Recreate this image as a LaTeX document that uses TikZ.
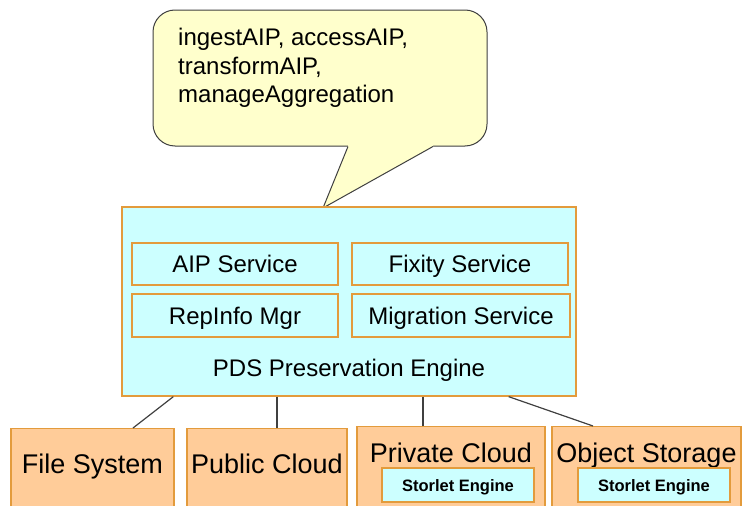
\documentclass[tikz,border=0pt]{standalone}
\usepackage{fontspec}
\setmainfont{Liberation Sans}
\usetikzlibrary{calc}
\definecolor{boxcyan}{HTML}{CCFFFF}
\definecolor{boxpeach}{HTML}{FFCC99}
\definecolor{notefill}{HTML}{FFFFCC}
\definecolor{edgeorange}{HTML}{E39B3C}
\definecolor{wire}{HTML}{404040}
\begin{document}
\begin{tikzpicture}[x=1pt,y=-1pt,
  svc/.style={draw=edgeorange, fill=boxcyan, line width=1.3pt, inner sep=0pt,
    font=\fontsize{24}{28}\selectfont, text height=17pt, text depth=0pt},
  store/.style={draw=edgeorange, fill=boxpeach, line width=1.3pt, inner sep=0pt},
  storetext/.style={inner sep=0pt, font=\fontsize{27}{32}\selectfont, text height=19.3pt, text depth=0pt},
  storlet/.style={draw=edgeorange, fill=boxcyan, line width=1.3pt, inner sep=0pt,
    minimum width=152pt, minimum height=34pt,
    font=\fontsize{16.5}{20}\selectfont\bfseries, text height=12pt, text depth=0pt},
  link/.style={draw=wire, line width=1.2pt}]
\useasboundingbox (0,0) rectangle (742,506);
\clip (0,0) rectangle (742,506);

% speech bubble with the operations
\node[draw=wire, fill=notefill, rounded corners=22pt, line width=1pt,
      minimum width=334pt, minimum height=136pt, inner sep=0pt] (note) at (320,78) {};
\coordinate (tailL) at ($(note.south)+(28,0)$);
\coordinate (tailR) at ($(note.south)+(113,0)$);
\coordinate (tailtip) at (323,208);
\fill[notefill] (tailL) -- (tailtip) -- (tailR) -- ($(tailR)+(0,-4)$) -- ($(tailL)+(0,-4)$) -- cycle;
\draw[wire, line width=1pt, line join=miter] (tailL) -- (tailtip) -- (tailR);
\node[anchor=north west, align=left, inner sep=0pt, font=\fontsize{24}{28.5}\selectfont]
  (notetext) at (178,28) {ingestAIP, accessAIP,\\transformAIP,\\manageAggregation};

% preservation engine and its services
\node[draw=edgeorange, fill=boxcyan, line width=1.3pt, inner sep=0pt,
      minimum width=454pt, minimum height=189pt] (engine) at (349,301.5) {};
\node[svc, minimum width=206pt, minimum height=42pt] (aip) at (235,264) {AIP Service};
\node[svc, minimum width=216pt, minimum height=42pt] (fixity) at (460,264) {Fixity Service};
\node[svc, minimum width=206pt, minimum height=43pt] (repinfo) at (235,315.5) {RepInfo Mgr};
\node[svc, minimum width=218pt, minimum height=43pt] (migration) at (461,315.5) {Migration Service};
\node[inner sep=0pt, font=\fontsize{24}{28}\selectfont, text height=17pt, text depth=0pt]
  (enginelabel) at (349,367.5) {PDS Preservation Engine};

% storage back ends
\node[store, minimum width=163pt, minimum height=90pt, anchor=north] (fs) at (92.5,428) {};
\node[store, minimum width=160pt, minimum height=90pt, anchor=north] (pc) at (267,428) {};
\node[store, minimum width=188pt, minimum height=92pt, anchor=north] (prc) at (451,426) {};
\node[store, minimum width=189pt, minimum height=92pt, anchor=north] (os) at (646.5,426) {};
\node[storetext] (fstext) at (92.5,463.5) {File System};
\node[storetext] (pctext) at (267,464) {Public Cloud};
\node[storetext] (prctext) at (451,452.5) {Private Cloud};
\node[storetext] (ostext) at (646.5,452.5) {Object Storage};
\node[storlet] (prcstorlet) at (458,485) {Storlet Engine};
\node[storlet] (osstorlet) at (654,485) {Storlet Engine};

% connections from the engine to the back ends
\draw[link] ($(engine.south west)+(52,0)$) -- ($(fs.north)+(40.5,0)$);
\coordinate (pcjoin) at ($(pc.north)+(10,0)$);
\draw[link] (engine.south -| pcjoin) -- (pcjoin);
\coordinate (prcjoin) at ($(prc.north)+(-28,0)$);
\draw[link] (engine.south -| prcjoin) -- (prcjoin);
\draw[link] ($(engine.south east)+(-68,0)$) -- ($(os.north)+(-53.5,0)$);
\end{tikzpicture}
\end{document}
